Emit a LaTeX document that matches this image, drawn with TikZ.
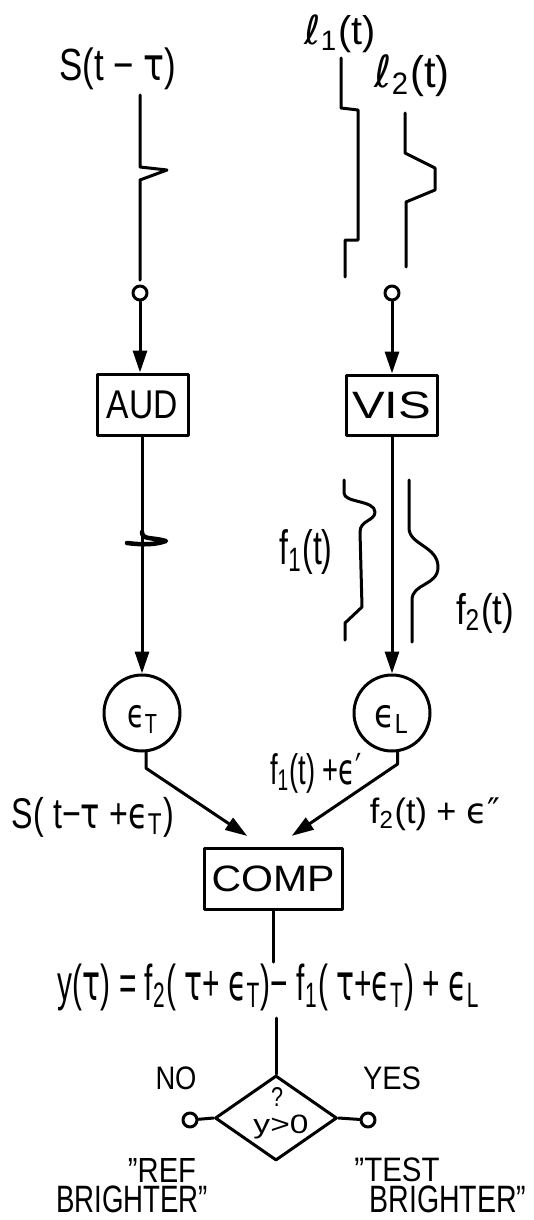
\documentclass[tikz,border=0pt]{standalone}
\usepackage{graphicx}
\usepackage{fontspec}
\setmainfont{Liberation Sans}
\newfontfamily\gk{DejaVu Sans}
\usetikzlibrary{arrows.meta,shapes.geometric,calc}
\newcommand\fitlab[3]{\resizebox*{#1pt}{#2pt}{#3}}
\newcommand\gtau{{\gk τ}}
\newcommand\geps{{\gk ϵ}}
\begin{document}
\begin{tikzpicture}[x=1pt,y=-1pt,line width=3pt,line join=round,line cap=round,
  box/.style={draw,rectangle,inner sep=0pt},
  term/.style={draw,circle,minimum size=14pt,inner sep=0pt},
  proc/.style={draw,circle,minimum size=76pt,inner sep=0pt},
  lab/.style={inner sep=0pt,anchor=center},
  arr/.style={-{Triangle[length=22pt,width=14pt]}}]
\useasboundingbox (0,0) rectangle (533,1220);
\fill[white] (0,0) rectangle (533,1220);

% labels at top
\node[lab] (sin) at (118,69) {\fitlab{117}{42}{S(t − \gtau)}};
\node[lab] (l1) at (340,34) {\fitlab{71}{38}{{\gk ℓ}\textsubscript{1}(t)}};
\node[lab] (l2) at (412,76) {\fitlab{75}{42}{{\gk ℓ}\textsubscript{2}(t)}};

% input waveforms
\draw (140,95) -- (140,167) -- (167,170) -- (140,180) -- (140,280);
\draw (341,58) -- (341,108) -- (358,110) -- (358,240) -- (345,240) -- (345,277);
\draw (405,113) -- (405,153) -- (435,168) -- (435,190) -- (406,202) -- (406,267);

% terminals
\node[term] (tl) at (140,293) {};
\node[term] (tr) at (392,293) {};

% boxes
\node[box,minimum width=91pt,minimum height=61pt] (aud) at (142.5,404.5) {\fitlab{71}{28}{AUD}};
\node[box,minimum width=91pt,minimum height=60pt] (vis) at (391.5,405) {\fitlab{79}{27}{VIS}};

\draw[arr] (tl) -- (tl |- aud.north);
\draw[arr] (tr) -- (tr |- vis.north);

% noise circles
\node[proc] (et) at (142,713) {};
\node[proc] (el) at (392,713) {};
\node[lab] (etl) at (143,719) {\fitlab{31}{28}{\geps\textsubscript{T}}};
\node[lab] (ell) at (392,719) {\fitlab{35}{28}{\geps\textsubscript{L}}};

\draw[arr] (aud.south -| et) -- (et.north);
\draw[arr] (vis.south -| el) -- (el.north);

% blurred auditory signal
\draw[line width=4.5pt] (142,532) .. controls (142,540) and (152,537) .. (166,541) .. controls (152,546) and (136,544) .. (127,543);

% blurred visual signals
\draw (344,480) -- (344,493) .. controls (344,503) and (375,500) .. (375,512) .. controls (375,521) and (360,520) .. (360,532) -- (362,607) -- (345,623) -- (345,640);
\draw (409,480) -- (409,528) .. controls (409,545) and (438,546) .. (438,567) .. controls (438,586) and (412,583) .. (412,600) -- (412,642);
\node[lab] (f1l) at (306,552) {\fitlab{53}{45}{f\textsubscript{1}(t)}};
\node[lab] (f2l) at (485,613) {\fitlab{58}{40}{f\textsubscript{2}(t)}};

% comparator
\node[box,minimum width=138pt,minimum height=61pt] (comp) at (273,878.5) {\fitlab{123}{26}{COMP}};
\draw[arr,shorten >=19pt] (et.-84) -- ++(0,16) -- ($(comp.north)+(-10,0)$);
\draw[arr,shorten >=19pt] (el.-82) -- ++(0,12) -- ($(comp.north)+(3,0)$);
\node[lab] (sl) at (93,817) {\fitlab{162}{40}{S( t−\gtau\ +\geps\textsubscript{T})}};
\node[lab] (f1e) at (316,773) {\fitlab{92}{40}{f\textsubscript{1}(t) +{\gk ϵ′}}};
\node[lab] (f2e) at (435,814) {\fitlab{130}{33}{f\textsubscript{2}(t) + {\gk ϵ″}}};

% decision variable
\node[lab] (fml) at (269,987) {\fitlab{422}{47}{y(\gtau) = f\textsubscript{2}( \gtau+ \geps\textsubscript{T})− f\textsubscript{1}( \gtau+\geps\textsubscript{T}) + \geps\textsubscript{L}}};
\draw (comp.south) -- (comp.south |- fml.north);

% decision
\node[draw,diamond,minimum width=122pt,minimum height=85pt,inner sep=0pt] (dia) at (276,1118) {};
\draw ($(dia.north |- fml.south)+(0,6)$) -- (dia.north);
\node[lab] (q) at (277,1097) {\fitlab{12}{19}{?}};
\node[lab] (ygt) at (281,1127) {\fitlab{55}{24}{y>0}};
\node[term] (no) at (190,1120) {};
\node[term] (yes) at (368,1120) {};
\draw (dia.west) -- (no);
\draw (dia.east) -- (yes);
\node[lab] (nol) at (176,1078) {\fitlab{41}{23}{NO}};
\node[lab] (yesl) at (392,1078) {\fitlab{58}{23}{YES}};
\node[lab] (ref1) at (162,1170) {\fitlab{68}{24}{"REF}};
\node[lab] (ref2) at (132,1199) {\fitlab{152}{27}{BRIGHTER"}};
\node[lab] (test1) at (397,1170) {\fitlab{85}{24}{"TEST}};
\node[lab] (test2) at (448,1199) {\fitlab{157}{27}{BRIGHTER"}};
\end{tikzpicture}
\end{document}
